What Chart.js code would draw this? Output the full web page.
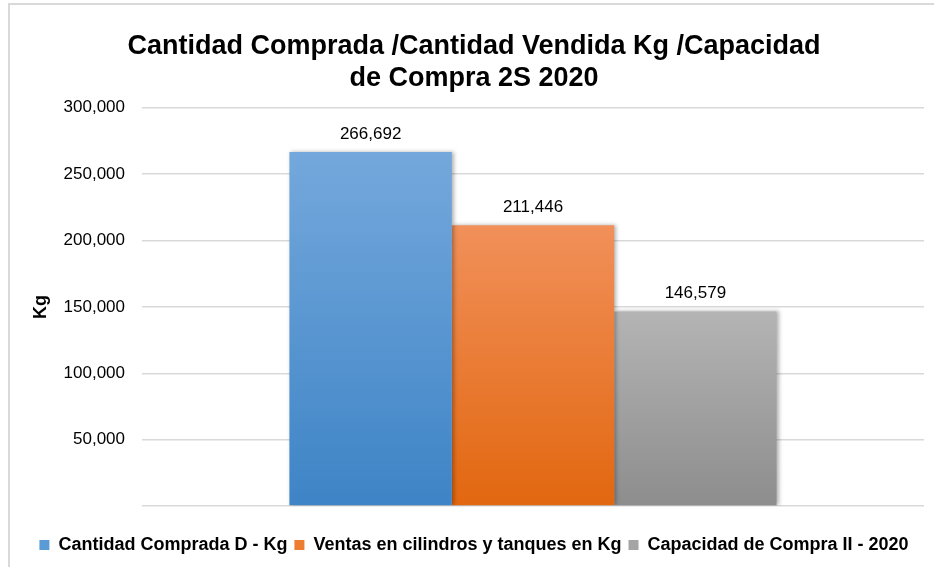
<!DOCTYPE html>
<html lang="es">
<head>
    <meta charset="UTF-8">
    <title>Cantidad Comprada / Vendida / Capacidad</title>
    <script src="https://cdn.jsdelivr.net/npm/chart.js"></script>
    <style>
        body { margin: 0; background: #fff; }
        #wrap { width: 934px; height: 567px; position: relative; }
    </style>
</head>
<body>
    <div id="wrap"><canvas id="chart"></canvas></div>

    <script>
        // values
        var categories = ['2S 2020'];
        var seriesNames = ['Cantidad Comprada D - Kg', 'Ventas en cilindros y tanques en Kg', 'Capacidad de Compra II - 2020'];
        var compradaKg = [266692];
        var ventasKg = [211446];
        var capacidadKg = [146579];
        var yTicks = [0, 50000, 100000, 150000, 200000, 250000, 300000];

        var topColors = ['#74a8dc', '#f1905a', '#b4b4b4'];
        var bottomColors = ['#3e84c6', '#e2670f', '#8d8d8d'];
        var solidColors = ['#5b9bd5', '#ed7d31', '#a5a5a5'];

        var FONT = '"Liberation Sans", Arial, sans-serif';

        function barFill(i) {
            return function(ctx) {
                if (ctx.type !== 'data' || !ctx.chart.chartArea) return solidColors[i];
                var y = ctx.chart.scales.y;
                var top = y.getPixelForValue(ctx.raw);
                var bottom = y.getPixelForValue(0);
                var g = ctx.chart.ctx.createLinearGradient(0, top, 0, bottom);
                g.addColorStop(0, topColors[i]);
                g.addColorStop(1, bottomColors[i]);
                return g;
            };
        }

        // outer frame + shadow behind the bars + value labels
        var extras = {
            id: 'extras',
            beforeDraw: function(chart) {
                var c = chart.ctx;
                c.save();
                c.strokeStyle = '#d9d9d9';
                c.lineWidth = 2;
                c.beginPath();
                c.moveTo(9, 567);
                c.lineTo(9, 4);
                c.lineTo(934, 4);
                c.stroke();
                c.restore();
            },
            beforeDatasetsDraw: function(chart) {
                var c = chart.ctx;
                c.save();
                c.shadowColor = 'rgba(0,0,0,0.3)';
                c.shadowBlur = 4;
                c.shadowOffsetX = 2;
            },
            afterDatasetsDraw: function(chart) {
                var c = chart.ctx;
                c.restore();
                c.save();
                c.font = '17px ' + FONT;
                c.fillStyle = '#000';
                c.textAlign = 'center';
                c.textBaseline = 'alphabetic';
                chart.data.datasets.forEach(function(ds, i) {
                    chart.getDatasetMeta(i).data.forEach(function(bar, j) {
                        c.fillText(ds.data[j].toLocaleString('en-US'), bar.x, bar.y - 13);
                    });
                });
                c.restore();
            }
        };

        var datasets = [compradaKg, ventasKg, capacidadKg].map(function(vals, i) {
            return {
                label: seriesNames[i],
                data: vals,
                backgroundColor: barFill(i),
                borderWidth: 0,
                barPercentage: 1,
                categoryPercentage: 0.623
            };
        });

        new Chart(document.getElementById('chart'), {
            type: 'bar',
            data: { labels: categories, datasets: datasets },
            plugins: [extras],
            options: {
                responsive: true,
                maintainAspectRatio: false,
                animation: false,
                layout: { padding: { left: 24, right: 10, top: 30, bottom: 3 } },
                plugins: {
                    tooltip: { enabled: false },
                    title: {
                        display: true,
                        text: ['Cantidad Comprada /Cantidad Vendida Kg /Capacidad', 'de Compra 2S 2020'],
                        color: '#000',
                        font: { family: FONT, size: 27, weight: 'bold', lineHeight: 1.2 },
                        padding: { top: 0, bottom: 13 }
                    },
                    legend: {
                        position: 'bottom',
                        labels: {
                            color: '#000',
                            font: { family: FONT, size: 18, weight: 'bold' },
                            boxWidth: 10,
                            boxHeight: 10,
                            padding: 7,
                            generateLabels: function(chart) {
                                return chart.data.datasets.map(function(ds, i) {
                                    return { text: ds.label, fillStyle: solidColors[i], strokeStyle: solidColors[i], lineWidth: 0, datasetIndex: i };
                                });
                            }
                        }
                    }
                },
                scales: {
                    x: {
                        grid: { display: false },
                        border: { display: false },
                        ticks: { display: false },
                        afterFit: function(s) { s.height = 23; }
                    },
                    y: {
                        min: 0,
                        max: 300000,
                        afterBuildTicks: function(s) { s.ticks = yTicks.map(function(v) { return { value: v }; }); },
                        afterFit: function(s) { s.width = 118; },
                        grid: { color: '#d9d9d9', lineWidth: 1.5, drawTicks: false },
                        border: { display: false },
                        ticks: {
                            padding: 17,
                            color: '#000',
                            font: { family: FONT, size: 17 },
                            callback: function(v) { return v === 0 ? '' : v.toLocaleString('en-US'); }
                        },
                        title: {
                            display: true,
                            text: 'Kg',
                            color: '#000',
                            font: { family: FONT, size: 18, weight: 'bold' },
                            padding: { top: 6, bottom: 0 }
                        }
                    }
                }
            }
        });
    </script>
</body>
</html>
